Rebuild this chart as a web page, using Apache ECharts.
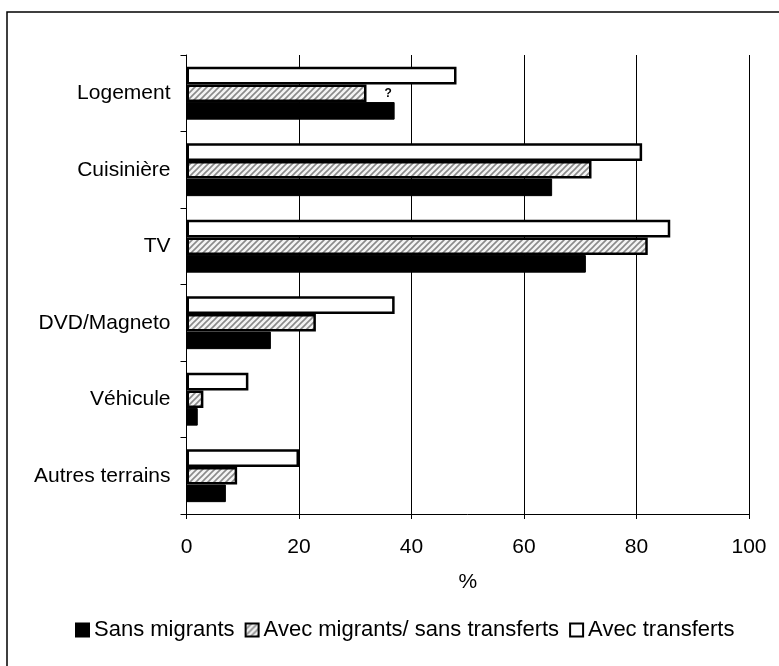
<!DOCTYPE html>
<html>
<head>
<meta charset="utf-8">
<script src="https://cdn.jsdelivr.net/npm/echarts@6/dist/echarts.min.js"></script>
<style>
  html, body { margin: 0; padding: 0; background: #fff; }
  #chart { width: 779px; height: 666px; }
</style>
</head>
<body>
<div id="chart"></div>
<script>
// bottom-to-top, as the category axis draws them
const categories = ["Autres terrains", "Véhicule", "DVD/Magneto", "TV", "Cuisinière", "Logement"];
const sansMigrants = [7, 2, 15, 71, 65, 37];
const avecMigrantsSansTransferts = [9, 3, 23, 82, 72, 32];
const avecTransferts = [20, 11, 37, 86, 81, 48];
const xTicks = [0, 20, 40, 60, 80, 100];
const legendNames = ["Sans migrants", "Avec migrants/ sans transferts", "Avec transferts"];

const FONT = "'Liberation Sans', Arial, sans-serif";
const FS = 21;

// diagonal hatch used for the middle series
function hatch() {
  const c = document.createElement("canvas");
  c.width = 6;
  c.height = 6;
  const g = c.getContext("2d");
  g.fillStyle = "#f4f4f4";
  g.fillRect(0, 0, 6, 6);
  g.strokeStyle = "#8a8a8a";
  g.lineWidth = 1.6;
  g.beginPath();
  g.moveTo(-1, 7); g.lineTo(7, -1);
  g.moveTo(-4, 4); g.lineTo(4, -4);
  g.moveTo(2, 10); g.lineTo(10, 2);
  g.stroke();
  return c;
}

const chart = echarts.init(document.getElementById("chart"));

const hatchData = avecMigrantsSansTransferts.map((v, i) =>
  categories[i] === "Logement"
    ? {
        value: v,
        label: {
          show: true,
          position: "right",
          distance: 18,
          formatter: "?",
          fontFamily: FONT,
          fontWeight: "bold",
          fontSize: 12,
          color: "#000",
        },
      }
    : v
);

chart.setOption({
  animation: false,
  textStyle: { fontFamily: FONT },
  graphic: [
    {
      type: "rect",
      shape: { x: 7, y: 12, width: 800, height: 700 },
      style: { fill: "none", stroke: "#000", lineWidth: 1.5 },
      silent: true,
    },
  ],
  grid: { left: 186.5, right: 30, top: 55, bottom: 152 },
  legend: {
    bottom: 20,
    left: 70,
    itemWidth: 13,
    itemHeight: 13,
    itemGap: 10,
    icon: "rect",
    textStyle: { fontFamily: FONT, fontSize: 22, color: "#000" },
    data: legendNames,
  },
  xAxis: {
    type: "value",
    min: 0,
    max: 100,
    interval: 20,
    name: "%",
    nameLocation: "middle",
    nameGap: 58,
    nameTextStyle: { fontFamily: FONT, fontSize: FS, color: "#000" },
    axisLine: { show: true, lineStyle: { color: "#000", width: 1 } },
    axisTick: { show: true, length: 5, lineStyle: { color: "#000" } },
    axisLabel: {
      margin: 23,
      fontFamily: FONT,
      fontSize: FS,
      color: "#000",
      formatter: (v) => (xTicks.includes(v) ? String(v) : ""),
    },
    splitLine: { show: true, lineStyle: { color: "#000", width: 1 } },
  },
  yAxis: {
    type: "category",
    data: categories,
    axisLine: { show: true, lineStyle: { color: "#000", width: 1 } },
    axisTick: { show: true, length: 6, inside: false, lineStyle: { color: "#000" } },
    axisLabel: { margin: 16, fontFamily: FONT, fontSize: FS, color: "#000" },
  },
  // listed top-to-bottom within each group
  series: [
    {
      name: legendNames[2],
      type: "bar",
      data: avecTransferts,
      barCategoryGap: "31%",
      barGap: "0%",
      itemStyle: { color: "#fff", borderColor: "#000", borderWidth: 2.5 },
    },
    {
      name: legendNames[1],
      type: "bar",
      data: hatchData,
      barCategoryGap: "31%",
      barGap: "0%",
      itemStyle: {
        color: { image: hatch(), repeat: "repeat" },
        borderColor: "#000",
        borderWidth: 2.5,
      },
    },
    {
      name: legendNames[0],
      type: "bar",
      data: sansMigrants,
      barCategoryGap: "31%",
      barGap: "0%",
      itemStyle: { color: "#000", borderColor: "#000", borderWidth: 1 },
    },
  ],
});

window.addEventListener("resize", () => chart.resize());
</script>
</body>
</html>
